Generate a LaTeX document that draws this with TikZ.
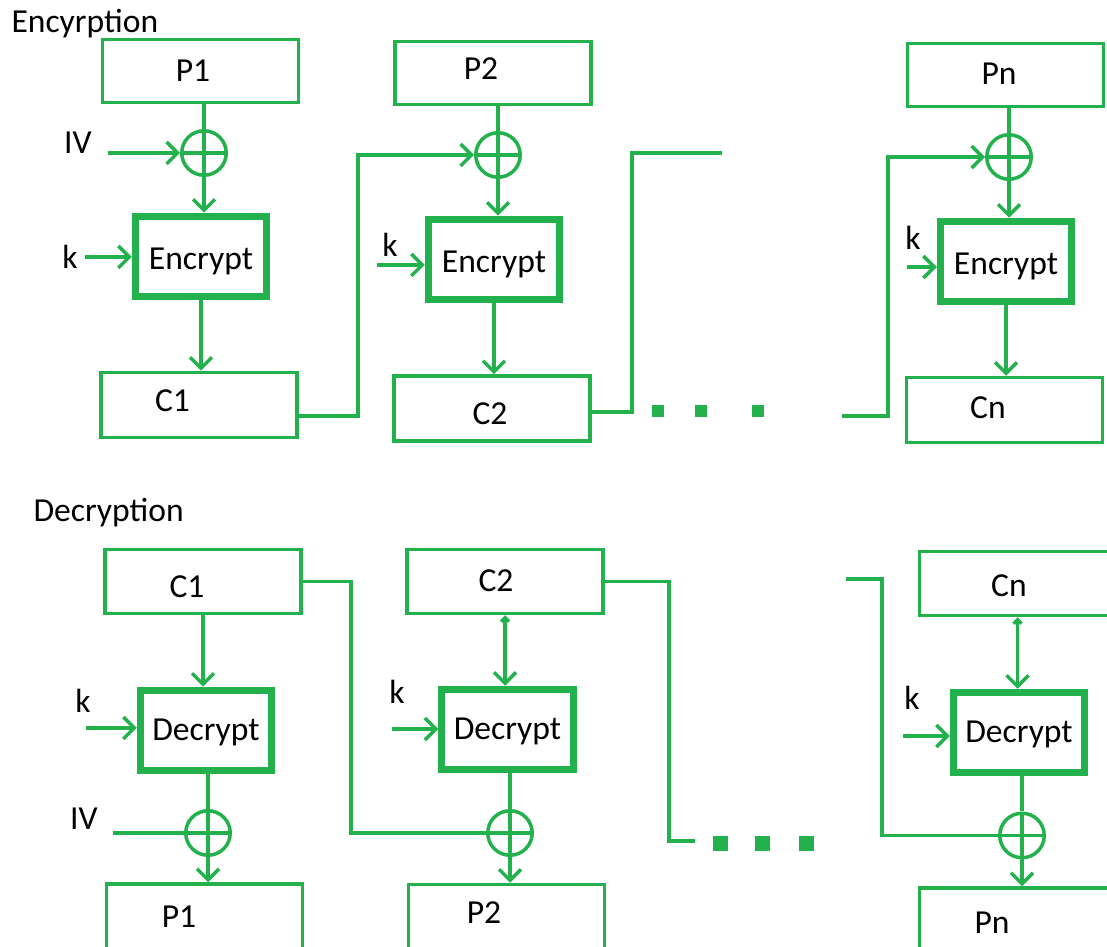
\documentclass[tikz,border=0pt]{standalone}
\usepackage{fontspec}
\setmainfont{Carlito}
\usetikzlibrary{arrows.meta}
\definecolor{grn}{HTML}{22B14C}
\begin{document}
\begin{tikzpicture}[>={Straight Barb[length=11bp,width=22bp]},
  font=\fontsize{33.7}{40}\selectfont,
  datbox/.style={draw=grn,line width=3.5bp,minimum width=196bp,minimum height=63bp,inner sep=0pt},
  cipher/.style={draw=grn,line width=7bp,minimum width=131.5bp,minimum height=80.5bp,inner sep=0pt,text depth=0pt},
  encbox/.style={cipher,text height=27bp},
  decbox/.style={cipher,text height=20bp},
  xor/.style={circle,draw=grn,line width=3.5bp,minimum size=44.5bp,inner sep=0pt,
    path picture={\draw [grn,line width=3.5bp] (path picture bounding box.north) -- (path picture bounding box.south)
      (path picture bounding box.west) -- (path picture bounding box.east);}},
  flow/.style={grn,line width=3.5bp},
  sq/.style={fill=grn,inner sep=0pt,minimum size=12bp},
  uptip/.style={{Straight Barb[length=4bp,width=8bp]}->}]
\useasboundingbox (0bp,0bp) rectangle (1107bp,947bp);
\clip (0bp,0bp) rectangle (1107bp,947bp);
%% encryption
\node (enc_title) at (8bp,914bp) [anchor=base west] {Encyrption};
  \node (enc_p1) at (200.5bp,876bp) [datbox,label={[shift={(-7.5bp,0bp)}]center:P1}] {};
  \node (enc_x1) at (204bp,794bp) [xor] {};
  \node (enc_e1) at (201bp,690.5bp) [encbox] {Encrypt};
  \node (enc_c1) at (199bp,542bp) [datbox,minimum height=65bp,label={[shift={(-26.5bp,4bp)}]center:C1}] {};
  \node (enc_p2) at (493bp,874bp) [datbox,label={[shift={(-12bp,4bp)}]center:P2}] {};
  \node (enc_x2) at (498bp,792bp) [xor] {};
  \node (enc_e2) at (494bp,687.5bp) [encbox] {Encrypt};
  \node (enc_c2) at (492bp,538.5bp) [datbox,minimum height=65bp,label={[shift={(-2bp,-5.5bp)}]center:C2}] {};
  \node (enc_pn) at (1005.5bp,872bp) [datbox,label={[shift={(-6.5bp,1bp)}]center:Pn}] {};
  \node (enc_xn) at (1009bp,790bp) [xor] {};
  \node (enc_en) at (1006bp,685.5bp) [encbox] {Encrypt};
  \node (enc_cn) at (1004.5bp,537bp) [datbox,minimum height=65bp,label={[shift={(-16.5bp,2bp)}]center:Cn}] {};
  \node (enc_iv) at (78bp,804bp) {IV};
  \node (enc_k1) at (70bp,690bp) {k};
  \node (enc_k2) at (390bp,702bp) {k};
  \node (enc_kn) at (913bp,709bp) {k};
  \node (enc_dot1) at (657.5bp,536bp) [sq] {};
  \node (enc_dot2) at (701bp,536bp) [sq] {};
  \node (enc_dot3) at (758bp,536bp) [sq] {};
  \coordinate (enc_ivin) at (108bp,794bp);
  \coordinate (enc_k1in) at (85bp,690bp);
  \coordinate (enc_k2in) at (377bp,682bp);
  \coordinate (enc_knin) at (907bp,680bp);
  \coordinate (enc_c2out) at (722bp,794bp);
  \coordinate (enc_cnin) at (842bp,531bp);
  \draw [flow] (enc_x1 |- enc_p1.south) -- (enc_x1);
  \draw [flow,->] (enc_ivin) -- (enc_x1);
  \draw [flow,->] (enc_x1) -- (enc_x1 |- enc_e1.north);
  \draw [flow,->] (enc_e1.south) -- (enc_e1.south |- enc_c1.north);
  \draw [flow,->] (enc_k1in) -- (enc_k1in -| enc_e1.west);
  \draw [flow,->] ([yshift=-11bp]enc_c1.east) -- ++(59bp,0bp) |- (enc_x2);
  \draw [flow] (enc_x2 |- enc_p2.south) -- (enc_x2);
  \draw [flow,->] (enc_x2) -- (enc_x2 |- enc_e2.north);
  \draw [flow,->] (enc_e2.south) -- (enc_e2.south |- enc_c2.north);
  \draw [flow,->] (enc_k2in) -- (enc_k2in -| enc_e2.west);
  \draw [flow] ([yshift=-3.5bp]enc_c2.east) -- ++(40bp,0bp) |- (enc_c2out);
  \draw [flow,->] (enc_cnin) -- ++(46bp,0bp) |- (enc_xn);
  \draw [flow] (enc_xn |- enc_pn.south) -- (enc_xn);
  \draw [flow,->] (enc_xn) -- (enc_xn |- enc_en.north);
  \draw [flow,->] (enc_en.south) -- (enc_en.south |- enc_cn.north);
  \draw [flow,->] (enc_knin) -- (enc_knin -| enc_en.west);
%% decryption
\node (dec_title) at (30bp,425bp) [anchor=base west] {Decryption};
  \node (dec_c1) at (203bp,365.5bp) [datbox,minimum height=64bp,label={[shift={(-16bp,-5.5bp)}]center:C1}] {};
  \node (dec_d1) at (206bp,216.5bp) [decbox] {Decrypt};
  \node (dec_x1) at (208bp,114bp) [xor] {};
  \node (dec_p1) at (204.5bp,30bp) [datbox,minimum height=66bp,label={[shift={(-25.5bp,0bp)}]center:P1}] {};
  \node (dec_c2) at (505bp,365.5bp) [datbox,minimum height=64bp,label={[shift={(-9bp,0.5bp)}]center:C2}] {};
  \node (dec_d2) at (507.5bp,217.5bp) [decbox] {Decrypt};
  \node (dec_x2) at (510bp,114bp) [xor] {};
  \node (dec_p2) at (506.5bp,29.5bp) [datbox,minimum height=66bp,label={[shift={(-22.5bp,4.5bp)}]center:P2}] {};
  \node (dec_cn) at (1017.5bp,363.5bp) [datbox,minimum height=64bp,label={[shift={(-8.5bp,-2.5bp)}]center:Cn}] {};
  \node (dec_dn) at (1019bp,214.5bp) [decbox] {Decrypt};
  \node (dec_xn) at (1022bp,111.5bp) [xor] {};
  \node (dec_pn) at (1017.5bp,27bp) [datbox,minimum height=64bp,label={[shift={(-25.5bp,-3bp)}]center:Pn}] {};
  \node (dec_k1) at (83bp,246bp) {k};
  \node (dec_iv) at (84bp,128bp) {IV};
  \node (dec_k2) at (397bp,255bp) {k};
  \node (dec_kn) at (912bp,249bp) {k};
  \node (dec_dot1) at (720bp,103bp) [sq,minimum size=15bp] {};
  \node (dec_dot2) at (762.5bp,103bp) [sq,minimum size=15bp] {};
  \node (dec_dot3) at (806.5bp,103bp) [sq,minimum size=15bp] {};
  \coordinate (dec_k1in) at (86bp,219bp);
  \coordinate (dec_ivin) at (113bp,114bp);
  \coordinate (dec_k2in) at (392bp,218bp);
  \coordinate (dec_knin) at (903bp,211bp);
  \coordinate (dec_c2out) at (695bp,106bp);
  \coordinate (dec_cnin) at (846bp,368bp);
  \draw [flow,->] (dec_c1.south) -- (dec_c1.south |- dec_d1.north);
  \draw [flow] (dec_x1 |- dec_d1.south) -- (dec_x1);
  \draw [flow] (dec_ivin) -- (dec_x1);
  \draw [flow,->] (dec_x1) -- (dec_x1 |- dec_p1.north);
  \draw [flow,->] (dec_k1in) -- (dec_k1in -| dec_d1.west);
  \draw [flow] (dec_c1.east) -- ++(48bp,0bp) |- (dec_x2);
  \draw [flow,uptip] (dec_c2.south) -- (dec_c2.south |- dec_d2.north);
  \draw [flow] (dec_x2 |- dec_d2.south) -- (dec_x2);
  \draw [flow,->] (dec_x2) -- (dec_x2 |- dec_p2.north);
  \draw [flow,->] (dec_k2in) -- (dec_k2in -| dec_d2.west);
  \draw [flow] (dec_c2.east) -- ++(64bp,0bp) |- (dec_c2out);
  \draw [flow] (dec_cnin) -- ++(36bp,0bp) |- (dec_xn);
  \draw [flow,uptip] (dec_cn.south) -- (dec_cn.south |- dec_dn.north);
  \draw [flow] (dec_xn |- dec_dn.south) -- (dec_xn);
  \draw [flow,->] (dec_xn) -- (dec_xn |- dec_pn.north);
  \draw [flow,->] (dec_knin) -- (dec_knin -| dec_dn.west);
%
\end{tikzpicture}
\end{document}
